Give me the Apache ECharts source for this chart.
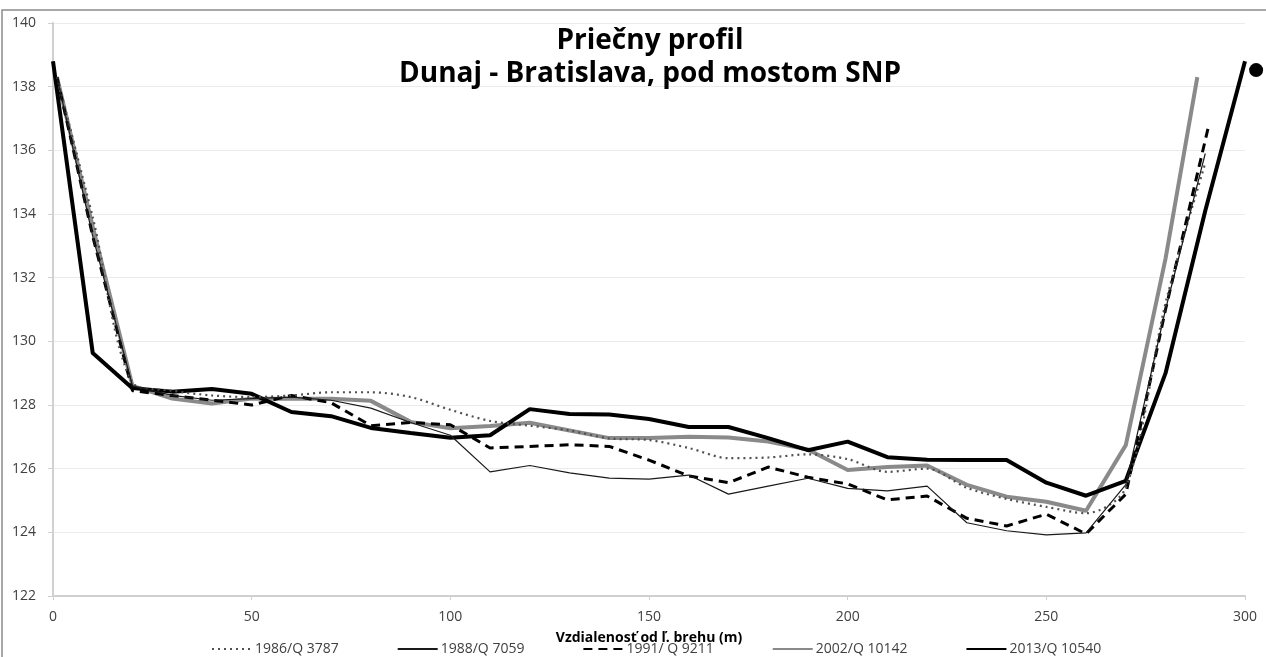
<!DOCTYPE html>
<html><head><meta charset="utf-8">
<script src="https://cdn.jsdelivr.net/npm/echarts@6/dist/echarts.min.js"></script>
<style>html,body{margin:0;padding:0;background:#fff}#c{width:1266px;height:657px}</style>
</head><body><div id="c"></div>
<script>
const seriesNames = ['1986/Q 3787','1988/Q 7059','1991/ Q 9211','2002/Q 10142','2013/Q 10540'];
const x1986 = [1,10,20,30,40,50,60,70,80,90,100,110,120,130,140,150,160,170,180,190,200,210,220,230,240,250,260,270,280,290];
const y1986 = [138.3,133.9,128.7,128.45,128.3,128.25,128.3,128.4,128.4,128.25,127.85,127.5,127.35,127.2,126.95,126.9,126.65,126.33,126.35,126.45,126.3,125.9,126.0,125.4,125.05,124.8,124.6,125.4,131.2,135.6];
const x1988 = [1,10,20,30,40,50,60,70,80,90,100,110,120,130,140,150,160,170,180,190,200,210,220,230,240,250,260,270,280,290];
const y1988 = [138.3,133.3,128.6,128.3,128.15,128.2,128.25,128.15,127.9,127.45,127.05,125.9,126.1,125.87,125.7,125.67,125.8,125.2,125.45,125.7,125.38,125.3,125.45,124.3,124.05,123.92,123.98,125.5,131.0,135.9];
const x1991 = [1,10,20,30,40,50,60,70,80,90,100,110,120,130,140,150,160,170,180,190,200,210,220,230,240,250,260,270,280,291];
const y1991 = [138.3,133.3,128.45,128.3,128.15,128.0,128.3,128.07,127.35,127.45,127.38,126.65,126.7,126.75,126.7,126.27,125.77,125.56,126.05,125.73,125.52,125.02,125.14,124.44,124.2,124.57,123.95,125.2,131.0,136.85];
const x2002 = [1,10,20,30,40,50,60,70,80,90,100,110,120,130,140,150,160,170,180,190,200,210,220,230,240,250,260,270,280,288];
const y2002 = [138.3,133.6,128.6,128.2,128.05,128.2,128.2,128.2,128.13,127.47,127.27,127.34,127.44,127.2,126.96,126.96,127.0,126.98,126.85,126.6,125.96,126.05,126.1,125.49,125.12,124.96,124.68,126.74,132.6,138.3];
const x2013 = [0,10,20,30,40,50,60,70,80,90,100,110,120,130,140,150,160,170,180,190,200,210,220,230,240,250,260,270,280,290,300];
const y2013 = [138.8,129.63,128.53,128.42,128.5,128.35,127.78,127.65,127.28,127.12,126.97,127.05,127.87,127.72,127.7,127.56,127.31,127.31,126.96,126.58,126.85,126.36,126.28,126.27,126.27,125.56,125.15,125.62,129.0,134.1,138.8];
const strayDot = [[302.8,138.52]];
const xTicks = {min:0, max:300, interval:50};
const yTicks = {min:122, max:140, interval:2};

const pair = (xs, ys) => xs.map((x,i)=>[x, ys[i]]);
const FONT = '"Open Sans", sans-serif';
const chart = echarts.init(document.getElementById('c'), null, {renderer:'canvas'});
chart.setOption({
  animation:false,
  backgroundColor:'#fff',
  textStyle:{fontFamily:FONT},
  title:{
    text:'Priečny profil\nDunaj - Bratislava, pod mostom SNP',
    left:645, top:20, textAlign:'center',
    textStyle:{fontSize:28, fontWeight:'bold', color:'#000', lineHeight:33, fontFamily:FONT}
  },
  graphic:[{type:'rect', shape:{x:2, y:10, width:1300, height:700}, style:{fill:'none', stroke:'#8c8c8c', lineWidth:1.5}, silent:true}],
  grid:{left:53, right:21, top:23, bottom:61, containLabel:false, outerBoundsMode:'none'},
  legend:{
    data:seriesNames, left:206, top:637, itemWidth:40, itemHeight:10, itemGap:58,
    itemStyle:{opacity:0},
    textStyle:{fontSize:14, color:'#404040', fontFamily:FONT, padding:[0,0,0,-2]}
  },
  xAxis:{
    type:'value', min:xTicks.min, max:xTicks.max, interval:xTicks.interval,
    name:'Vzdialenosť od ľ. brehu (m)', nameLocation:'middle', nameGap:35,
    nameTextStyle:{fontSize:14, fontWeight:'bold', color:'#000', fontFamily:FONT},
    axisLine:{lineStyle:{color:'#d0d0d0', width:2}},
    axisTick:{show:true, length:4, lineStyle:{color:'#d0d0d0'}},
    axisLabel:{fontSize:14, color:'#404040', margin:14, fontFamily:FONT},
    splitLine:{show:false}
  },
  yAxis:{
    type:'value', min:yTicks.min, max:yTicks.max, interval:yTicks.interval,
    name:'m n. m.', nameLocation:'middle', nameRotate:90, nameGap:36,
    nameTextStyle:{fontSize:12, fontWeight:'bold', color:'#000', fontFamily:FONT},
    axisLine:{show:true, lineStyle:{color:'#d0d0d0', width:2}},
    axisTick:{show:true, length:5, lineStyle:{color:'#d0d0d0'}},
    axisLabel:{fontSize:14, color:'#404040', margin:17, fontFamily:FONT},
    splitLine:{lineStyle:{color:'#ebebeb', width:1}}
  },
  series:[
    {name:seriesNames[0], type:'line', symbol:'none', smooth:0.3, data:pair(x1986,y1986),
     lineStyle:{color:'#505050', width:2.2, type:[2,4]}, itemStyle:{color:'#505050'}, z:6},
    {name:seriesNames[1], type:'line', symbol:'none', data:pair(x1988,y1988),
     lineStyle:{color:'#1a1a1a', width:1.2}, itemStyle:{color:'#1a1a1a'}, z:7},
    {name:seriesNames[2], type:'line', symbol:'none', data:pair(x1991,y1991),
     lineStyle:{color:'#000', width:3, type:[9,6]}, itemStyle:{color:'#000'}, z:5},
    {name:seriesNames[3], type:'line', symbol:'none', data:pair(x2002,y2002),
     lineStyle:{color:'#8a8a8a', width:4}, itemStyle:{color:'#8a8a8a'}, z:3},
    {name:seriesNames[4], type:'line', symbol:'none', data:pair(x2013,y2013),
     lineStyle:{color:'#000', width:4}, itemStyle:{color:'#000'}, z:4},
    {name:'dot', type:'scatter', data:strayDot, symbolSize:14, clip:false,
     itemStyle:{color:'#000', opacity:1}, z:8}
  ]
});
</script></body></html>
